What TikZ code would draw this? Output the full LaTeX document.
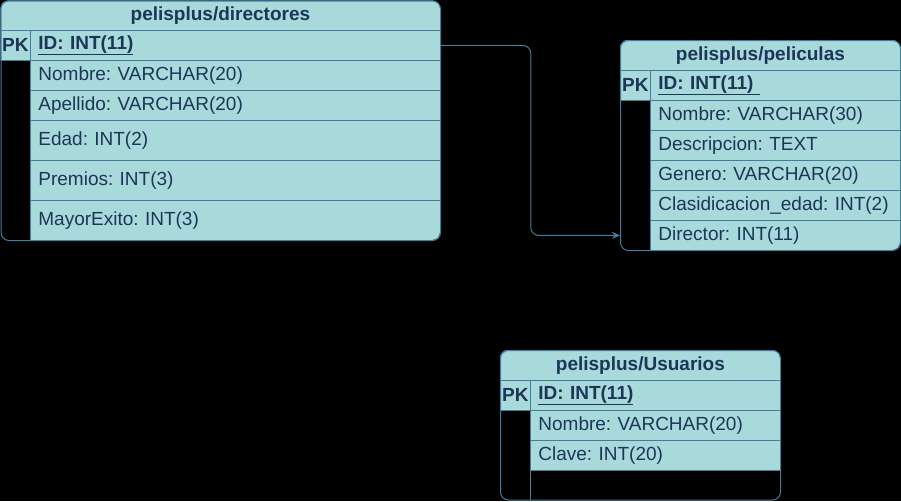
\documentclass[tikz,border=0pt]{standalone}
\usepackage{fontspec}
\setmainfont{Liberation Sans}
\usetikzlibrary{arrows.meta}
\definecolor{tfill}{HTML}{A8DADC}
\definecolor{tline}{HTML}{457B9D}
\definecolor{ttext}{HTML}{1D3557}
\frenchspacing
\begin{document}
\begin{tikzpicture}[x=1pt,y=-1pt,
  font=\fontsize{19}{22}\selectfont, text=ttext,
  frame/.style={draw=tline, line width=1pt, rounded corners=8pt, inner sep=0pt, anchor=north west},
  cell/.style={draw=tline, line width=0.8pt, fill=tfill, inner sep=0pt, anchor=north west, minimum height=30pt},
  titlecell/.style={cell, font=\fontsize{19}{22}\selectfont\bfseries},
  field/.style={cell, inner xsep=8pt, align=left, text width=#1},
  keyfield/.style={field=#1, font=\fontsize{19}{22}\selectfont\bfseries},
  emptyrow/.style={draw=tline, line width=0.8pt, inner sep=0pt, anchor=north west, minimum height=30pt},
  conn/.style={draw=tline, line width=1pt, rounded corners=8pt, -{Stealth[length=8pt,width=7pt]}}]
\useasboundingbox (0,0) rectangle (901,501);
\fill[black] (0,0) rectangle (901,501);
% ---------- table 1: directores ----------
\begin{scope}
\clip[rounded corners=8pt] (0.5,0.5) rectangle (440,240);
\node[titlecell, minimum width=440pt] (h1) at (0,0) {pelisplus/directores};
\node[titlecell, minimum width=30pt] (k1) at (0,30) {PK};
\node[keyfield=394pt] (d0) at (30,30) {\underline{ID: INT(11)}};
\node[field=394pt] (d1) at (30,60) {Nombre: VARCHAR(20)};
\node[field=394pt] (d2) at (30,90) {Apellido: VARCHAR(20)};
\node[field=394pt, minimum height=40pt] (d3) at (30,120) {Edad: INT(2)};
\node[field=394pt, minimum height=40pt] (d4) at (30,160) {Premios: INT(3)};
\node[field=394pt, minimum height=40pt] (d5) at (30,200) {MayorExito: INT(3)};
\end{scope}
\node[frame, minimum width=439.5pt, minimum height=239.5pt] (T1) at (0.5,0.5) {};
% ---------- table 2: peliculas ----------
\begin{scope}
\clip[rounded corners=8pt] (620,40) rectangle (900,250);
\node[titlecell, minimum width=280pt] (h2) at (620,40) {pelisplus/peliculas};
\node[titlecell, minimum width=30pt] (k2) at (620,70) {PK};
\node[keyfield=234pt] (p0) at (650,70) {\underline{ID: INT(11)\ }};
\node[field=234pt] (p1) at (650,100) {Nombre: VARCHAR(30)};
\node[field=234pt] (p2) at (650,130) {Descripcion: TEXT};
\node[field=234pt] (p3) at (650,160) {Genero: VARCHAR(20)};
\node[field=234pt] (p4) at (650,190) {Clasidicacion\_edad: INT(2)};
\node[field=234pt] (p5) at (650,220) {Director: INT(11)};
\end{scope}
\node[frame, minimum width=280pt, minimum height=210pt] (T2) at (620,40) {};
% ---------- table 3: Usuarios ----------
\begin{scope}
\clip[rounded corners=8pt] (500,350) rectangle (780,500);
\node[titlecell, minimum width=280pt] (h3) at (500,350) {pelisplus/Usuarios};
\node[titlecell, minimum width=30pt] (k3) at (500,380) {PK};
\node[keyfield=234pt] (u0) at (530,380) {\underline{ID: INT(11)}};
\node[field=234pt] (u1) at (530,410) {Nombre: VARCHAR(20)};
\node[field=234pt] (u2) at (530,440) {Clave: INT(20)};
\node[emptyrow, minimum width=250pt] (u3) at (530,470) {};
\end{scope}
\node[frame, minimum width=280pt, minimum height=149.5pt] (T3) at (500,350) {};
% ---------- connector ----------
\draw[conn] (d0.east) -- ([xshift=90pt]d0.east) |- (T2.west |- p5.west);
\end{tikzpicture}
\end{document}
